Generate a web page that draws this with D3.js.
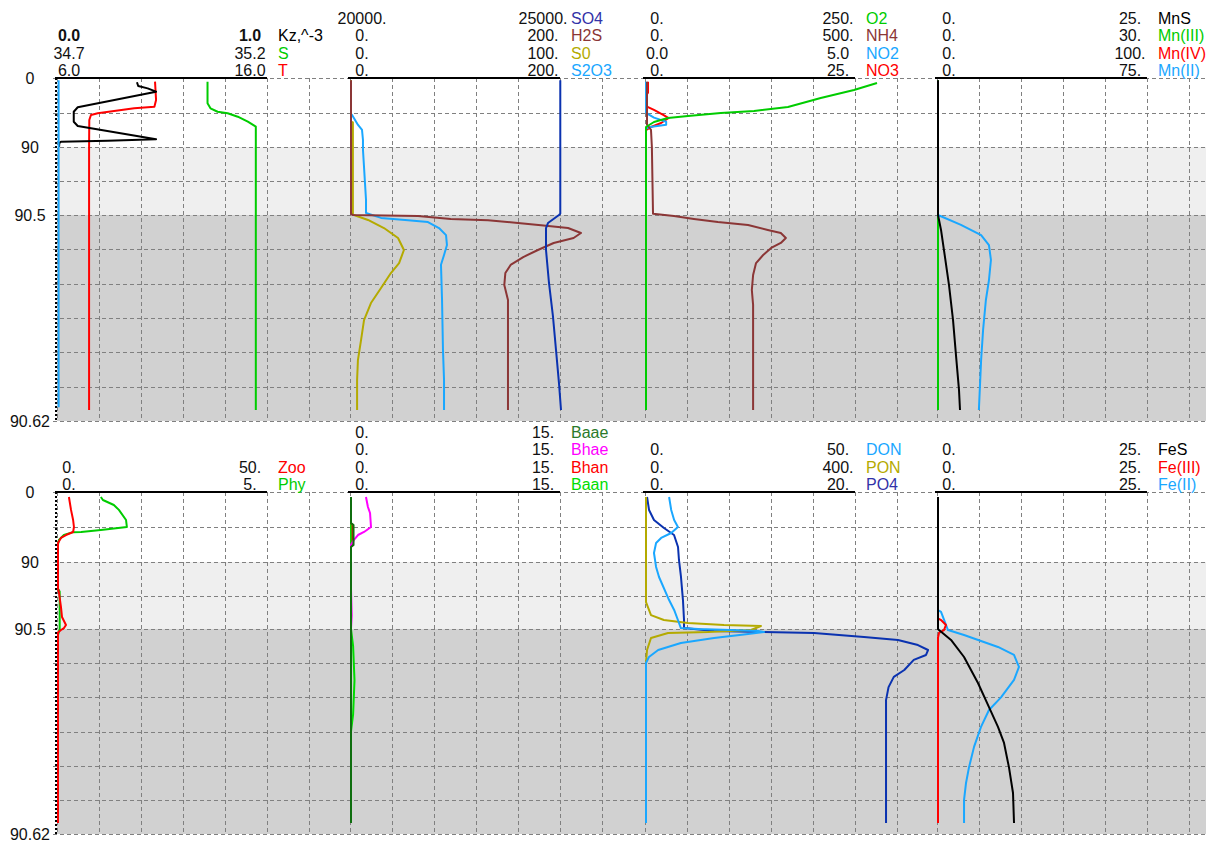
<!DOCTYPE html>
<html>
<head>
<meta charset="utf-8">
<script src="https://cdn.jsdelivr.net/npm/d3@7"></script>
<style>
  body { margin: 0; background: #fff; }
  svg text { font-family: "Liberation Sans", Arial, sans-serif; font-size: 16px; }
</style>
</head>
<body>
<svg id="chart" width="1211" height="843"></svg>
<script>
// ---- depth axis (piecewise: water column, BBL, sediment) ----
const depthBreaks = [0, 90, 90.5, 90.62];
const depthTicks = [0, 90, 90.5, 90.62];
const depthTickLabels = ["0", "90", "90.5", "90.62"];
const gridDepths = [0, 45, 90, 90.25, 90.5, 90.52, 90.54, 90.56, 90.58, 90.6, 90.62];

// ---- profiles: [depth, value] ----
const kz = [[5.6,0.376],[10.4,0.382],[13.5,0.427],[17.8,0.467],[38.2,0.094],[44,0.075],[57,0.075],[62.6,0.094],[80,0.467],[81.7,0.237],[83,0.014],[85.2,0.006],[90,0.005]];
const kzLow = [[3,0.003],[90,0.003],[90.5,0.003],[90.612,0.003]];
const salt = [[4.8,35.056],[33,35.056],[39.5,35.063],[44,35.080],[46,35.104],[50.5,35.128],[57,35.152],[63.5,35.171],[90,35.171],[90.5,35.171],[90.6136,35.171]];
const temp = [[4.8,10.62],[28.7,10.67],[37.4,10.59],[39.5,9.63],[46,7.89],[48.3,7.57],[54.8,7.49],[90,7.48],[90.5,7.48],[90.6136,7.48]];

const so4 = [[3,24983],[90,24983],[90.49,24983],[90.5,24952],[90.5047,24690],[90.5076,24643],[90.5204,24643],[90.5396,24714],[90.5594,24810],[90.5786,24881],[90.5979,24952],[90.6136,25000]];
const h2s = [[3,0],[90,0],[90.493,0],[90.5,1.9],[90.5006,63.8],[90.5023,95],[90.503,130.5],[90.5047,159],[90.506,181],[90.5076,206.7],[90.5105,219],[90.5134,212],[90.5163,193],[90.5204,178],[90.5245,164],[90.5291,152],[90.5338,147],[90.5408,146],[90.5495,149.5],[90.6136,149.5]];
const s0 = [[3,0],[57,0],[58,0.9],[90,0.9],[90.499,0.9],[90.5,1.4],[90.5029,8.1],[90.5076,15.7],[90.5134,22.4],[90.5204,25.2],[90.528,22.9],[90.5338,19],[90.5425,14.3],[90.5513,9.5],[90.5612,6.2],[90.5728,4.8],[90.5845,3.3],[90.5961,2.9],[90.6136,2.9]];
const s2o3 = [[3,0],[47,0],[48.3,1],[61.3,6.7],[67.8,10.5],[80.9,11.4],[90.02,11.4],[90.39,14.3],[90.485,14.3],[90.5017,28.6],[90.503,54.3],[90.5041,73.3],[90.5076,83.8],[90.5117,90.5],[90.5175,91.4],[90.5233,88.6],[90.529,85.7],[90.5495,86.7],[90.5786,87.6],[90.596,88.6],[90.6136,88.6]];

const o2 = [[6.5,275],[15.7,247.6],[26.1,208],[37.8,169],[43,128.6],[45.7,89],[49.6,50],[52.2,26],[57.4,9.5],[63.9,0],[90,0],[90.5,0],[90.6136,0]];
const nh4 = [[5,2.4],[61,2.4],[67.8,11.9],[90,14],[90.49,16.7],[90.5006,66.7],[90.5023,114],[90.5041,171],[90.5058,243],[90.5087,290],[90.5105,321],[90.5134,333],[90.5163,321],[90.5192,298],[90.5233,279],[90.528,262],[90.535,255],[90.5437,252],[90.5524,255],[90.6136,255]];
const no2 = [[5,0],[45,0],[47.8,0.07],[51.7,0.19],[57,0.48],[61,0.48],[63.9,0.1],[66,0],[90,0],[90.5,0],[90.6136,0]];
const no3 = [[5,0.24],[19,0.24],[22,0.05],[37,0.05],[38,0.24],[41.7,0.95],[48.3,2.1],[52.2,2.7],[58.7,1.8],[63.9,0.6],[68,0],[90,0],[90.5,0],[90.6136,0]];

const mns = [[3,0],[90,0],[90.5,0],[90.5087,0.36],[90.5204,0.71],[90.5408,1.31],[90.5612,1.79],[90.5816,2.14],[90.6019,2.5],[90.6136,2.62]];
const mn3 = [[3,0],[90,0],[90.5,0],[90.6136,0]];
const mn4 = [[3,0],[90,0],[90.5,0],[90.6136,0]];
const mn2 = [[3,0],[90,0],[90.5,0],[90.5058,8.2],[90.5117,15.4],[90.5175,18.2],[90.5262,18.9],[90.5379,18.2],[90.5495,17.1],[90.567,16.1],[90.5845,15.4],[90.6136,14.6]];

const zoo = [[6.4,2.6],[23,3.1],[36,3.6],[45,3.8],[51.4,3.6],[55.3,1.9],[59,0.7],[65.6,0],[90,0],[90.2,0],[90.23,0.24],[90.336,0.71],[90.41,0.95],[90.47,1.9],[90.493,1.43],[90.5006,0.71],[90.502,0],[90.6136,0]];
const phy = [[6.4,1.02],[10.3,1.07],[16.7,1.33],[23,1.45],[36,1.62],[45,1.64],[48.9,1.02],[51.4,0.55],[51.6,0.36],[55.3,0.14],[61.7,0.02],[68,0],[90,0],[90.2,0],[90.22,0.04],[90.5,0.04],[90.5035,0],[90.6136,0]];

const baae = [[6.4,0],[40,0],[42.4,0.18],[68,0.18],[70.7,0],[90,0],[90.5,0],[90.6136,0]];
const bhae = [[6.4,1.07],[19.3,1.21],[27,1.36],[45,1.43],[51.4,0.93],[55.3,0.5],[61.7,0.21],[68,0],[90,0],[90.2,0],[90.4,0.05],[90.5,0],[90.6136,0]];
const bhan = [[6.4,0],[40,0],[42,0.12],[65,0.12],[70,0],[90,0],[90.5,0],[90.6136,0]];
const baan = [[6.4,0],[90,0],[90.5,0],[90.51,0.15],[90.53,0.25],[90.55,0.15],[90.56,0],[90.6136,0]];

const don = [[6.4,5.5],[23.1,6],[36,6.7],[45,7.6],[52.7,6],[59.1,3.6],[65.6,2.4],[78.4,1.9],[90.037,2.4],[90.112,3.1],[90.284,5.5],[90.358,6.7],[90.433,7.6],[90.493,8.3],[90.5,12.4],[90.5006,20.2],[90.5012,26.7],[90.5018,28.1],[90.5029,24.3],[90.5053,16.2],[90.5082,8.3],[90.5123,2.9],[90.5164,0.7],[90.5199,0],[90.6136,0]];
const pon = [[6.4,0],[90,0],[90.3,0],[90.396,9.5],[90.433,34],[90.455,80],[90.47,148.6],[90.478,219],[90.5006,200],[90.5018,118],[90.5023,42],[90.5053,9.5],[90.5123,2],[90.5193,0],[90.6136,0]];
const po4 = [[6.4,0.1],[23.1,0.29],[36,0.76],[46.3,1.71],[55.3,2.67],[70.7,3.05],[87.4,3.14],[90.11,3.33],[90.284,3.52],[90.433,3.62],[90.493,3.62],[90.5012,6.48],[90.5018,11.24],[90.5023,16],[90.5047,20.76],[90.5064,24],[90.5094,25.9],[90.5123,26.86],[90.5152,26.67],[90.5181,25.5],[90.524,24.6],[90.528,23.6],[90.534,23.1],[90.5416,22.86],[90.6136,22.86]];

const fes = [[6.4,0],[90,0],[90.5,0],[90.5006,0.12],[90.5064,1.55],[90.5164,3.1],[90.5316,4.76],[90.5457,6.07],[90.5573,7.14],[90.5667,7.86],[90.581,8.45],[90.596,8.93],[90.6136,9.05]];
const fe3 = [[6.4,0],[90,0],[90.42,0],[90.433,0.36],[90.47,0.95],[90.5006,0.71],[90.5023,0.12],[90.505,0],[90.6136,0]];
const fe2 = [[6.4,0],[90,0],[90.36,0],[90.373,0.36],[90.5006,1.19],[90.5035,3.1],[90.5105,7.14],[90.5152,9.05],[90.5222,9.64],[90.5298,9.05],[90.54,7.5],[90.5474,6.07],[90.5573,5.12],[90.569,4.29],[90.581,3.69],[90.5903,3.33],[90.6,3.1],[90.6136,3.1]];

// ---- colours ----
const GREEN = "#00cc00", RED = "#ff0000", LBLUE = "#1aa7ff", DBLUE = "#0a32b0",
      BROWN = "#8b3636", OLIVE = "#b4aa00", BLACK = "#000000";

// ---- panel definitions (header rows top to bottom) ----
const panels = [
  { row: 0, col: 0, series: [
    { name: "Kz,^-3", color: BLACK, lo: 0, hi: 1, loText: "0.0", hiText: "1.0", data: kz, bold: true },
    { name: "S", color: GREEN, lo: 34.7, hi: 35.2, loText: "34.7", hiText: "35.2", data: salt },
    { name: "T", color: RED, lo: 6, hi: 16, loText: "6.0", hiText: "16.0", data: temp }],
    extra: [{ color: LBLUE, lo: 0, hi: 1, data: kzLow }] },
  { row: 0, col: 1, series: [
    { name: "SO4", color: DBLUE, text: "#3232a8", lo: 20000, hi: 25000, loText: "20000.", hiText: "25000.", data: so4 },
    { name: "H2S", color: BROWN, lo: 0, hi: 200, loText: "0.", hiText: "200.", data: h2s },
    { name: "S0", color: OLIVE, lo: 0, hi: 100, loText: "0.", hiText: "100.", data: s0 },
    { name: "S2O3", color: LBLUE, lo: 0, hi: 200, loText: "0.", hiText: "200.", data: s2o3 }] },
  { row: 0, col: 2, series: [
    { name: "O2", color: GREEN, lo: 0, hi: 250, loText: "0.", hiText: "250.", data: o2 },
    { name: "NH4", color: BROWN, lo: 0, hi: 500, loText: "0.", hiText: "500.", data: nh4 },
    { name: "NO2", color: LBLUE, lo: 0, hi: 5, loText: "0.0", hiText: "5.0", data: no2 },
    { name: "NO3", color: RED, lo: 0, hi: 25, loText: "0.", hiText: "25.", data: no3 }] },
  { row: 0, col: 3, series: [
    { name: "MnS", color: BLACK, lo: 0, hi: 25, loText: "0.", hiText: "25.", data: mns },
    { name: "Mn(III)", color: GREEN, lo: 0, hi: 30, loText: "0.", hiText: "30.", data: mn3 },
    { name: "Mn(IV)", color: RED, lo: 0, hi: 100, loText: "0.", hiText: "100.", data: mn4 },
    { name: "Mn(II)", color: LBLUE, lo: 0, hi: 75, loText: "0.", hiText: "75.", data: mn2 }] },
  { row: 1, col: 0, series: [
    { name: "Zoo", color: RED, lo: 0, hi: 50, loText: "0.", hiText: "50.", data: zoo },
    { name: "Phy", color: GREEN, lo: 0, hi: 5, loText: "0.", hiText: "5.", data: phy }] },
  { row: 1, col: 1, series: [
    { name: "Baae", color: "#0f6e0f", text: "#2a7a2a", lo: 0, hi: 15, loText: "0.", hiText: "15.", data: baae },
    { name: "Bhae", color: "#ff00ff", lo: 0, hi: 15, loText: "0.", hiText: "15.", data: bhae },
    { name: "Bhan", color: RED, lo: 0, hi: 15, loText: "0.", hiText: "15.", data: bhan },
    { name: "Baan", color: "#00dd00", lo: 0, hi: 15, loText: "0.", hiText: "15.", data: baan }] },
  { row: 1, col: 2, series: [
    { name: "DON", color: LBLUE, lo: 0, hi: 50, loText: "0.", hiText: "50.", data: don },
    { name: "PON", color: OLIVE, lo: 0, hi: 400, loText: "0.", hiText: "400.", data: pon },
    { name: "PO4", color: DBLUE, text: "#3232a8", lo: 0, hi: 20, loText: "0.", hiText: "20.", data: po4 }] },
  { row: 1, col: 3, series: [
    { name: "FeS", color: BLACK, lo: 0, hi: 25, loText: "0.", hiText: "25.", data: fes },
    { name: "Fe(III)", color: RED, lo: 0, hi: 25, loText: "0.", hiText: "25.", data: fe3 },
    { name: "Fe(II)", color: LBLUE, lo: 0, hi: 25, loText: "0.", hiText: "25.", data: fe2 }] }
];

// ---- layout ----
const colX = [57, 350, 645, 937];
const rowRanges = [[78, 147, 215, 421], [492, 562, 629, 834]];
const axisW = 210, cellW = 42, rightEdge = 1206;

const svg = d3.select("#chart");

rowRanges.forEach(function (range) {
  const y = d3.scaleLinear().domain(depthBreaks).range(range);
  const g = svg.append("g");

  // BBL and sediment bands
  g.append("rect").attr("x", colX[0]).attr("y", y(90)).attr("width", rightEdge - colX[0])
    .attr("height", y(90.5) - y(90)).attr("fill", "#efefef");
  g.append("rect").attr("x", colX[0]).attr("y", y(90.5)).attr("width", rightEdge - colX[0])
    .attr("height", y(90.62) - y(90.5)).attr("fill", "#d1d1d1");

  // horizontal dashed grid
  g.selectAll(".hgrid").data(gridDepths).enter().append("line")
    .attr("x1", colX[0] - 4).attr("x2", rightEdge)
    .attr("y1", d => Math.round(y(d)) + 0.5).attr("y2", d => Math.round(y(d)) + 0.5)
    .attr("stroke", "#808080").attr("stroke-dasharray", "4,3");

  // vertical dashed grid for each panel
  colX.forEach(function (x0) {
    const gx = d3.scaleLinear().domain([0, 5]).range([x0, x0 + axisW]);
    g.selectAll(null).data(d3.range(0, 7)).enter().append("line")
      .attr("x1", d => Math.round(gx(d)) + 0.5).attr("x2", d => Math.round(gx(d)) + 0.5)
      .attr("y1", y(0)).attr("y2", y(90.62))
      .attr("stroke", "#808080").attr("stroke-dasharray", "4,3");
  });

  // left depth axis
  g.append("line").attr("x1", colX[0] - 1).attr("x2", colX[0] - 1)
    .attr("y1", y(0)).attr("y2", y(90.62))
    .attr("stroke", "#000").attr("stroke-width", 2).attr("stroke-dasharray", "2,2");
  g.selectAll(".ylab").data(depthTicks).enter().append("text")
    .attr("x", 30).attr("y", d => y(d)).attr("dy", "0.36em")
    .attr("text-anchor", "middle").attr("fill", "#111")
    .text((d, i) => depthTickLabels[i]);
});

panels.forEach(function (p) {
  const x0 = colX[p.col];
  const range = rowRanges[p.row];
  const y = d3.scaleLinear().domain(depthBreaks).range(range);
  const g = svg.append("g");
  const top = range[0];

  // top axis line
  g.append("line").attr("x1", x0 - 2).attr("x2", x0 + axisW)
    .attr("y1", top).attr("y2", top).attr("stroke", "#000").attr("stroke-width", 2);

  // header rows
  const n = p.series.length;
  p.series.forEach(function (s, i) {
    const base = top - 2 - (n - 1 - i) * 17.5;
    const w = s.bold ? "bold" : "normal";
    g.append("text").attr("x", x0 + 12).attr("y", base).attr("text-anchor", "middle")
      .attr("fill", "#111").attr("font-weight", w).text(s.loText);
    g.append("text").attr("x", x0 + 193).attr("y", base).attr("text-anchor", "middle")
      .attr("fill", "#111").attr("font-weight", w).text(s.hiText);
    g.append("text").attr("x", x0 + 221).attr("y", base)
      .attr("fill", s.text || s.color).text(s.name);
  });

  // profiles: last listed drawn first
  const all = p.series.slice().reverse().concat(p.extra || []);
  all.forEach(function (s) {
    const x = d3.scaleLinear().domain([s.lo, s.hi]).range([x0, x0 + axisW]);
    const line = d3.line().x(d => x(d[1]) + 1).y(d => y(d[0]));
    g.append("path").attr("d", line(s.data)).attr("fill", "none")
      .attr("stroke", s.color).attr("stroke-width", 2).attr("stroke-linejoin", "round");
  });
});
</script>
</body>
</html>
